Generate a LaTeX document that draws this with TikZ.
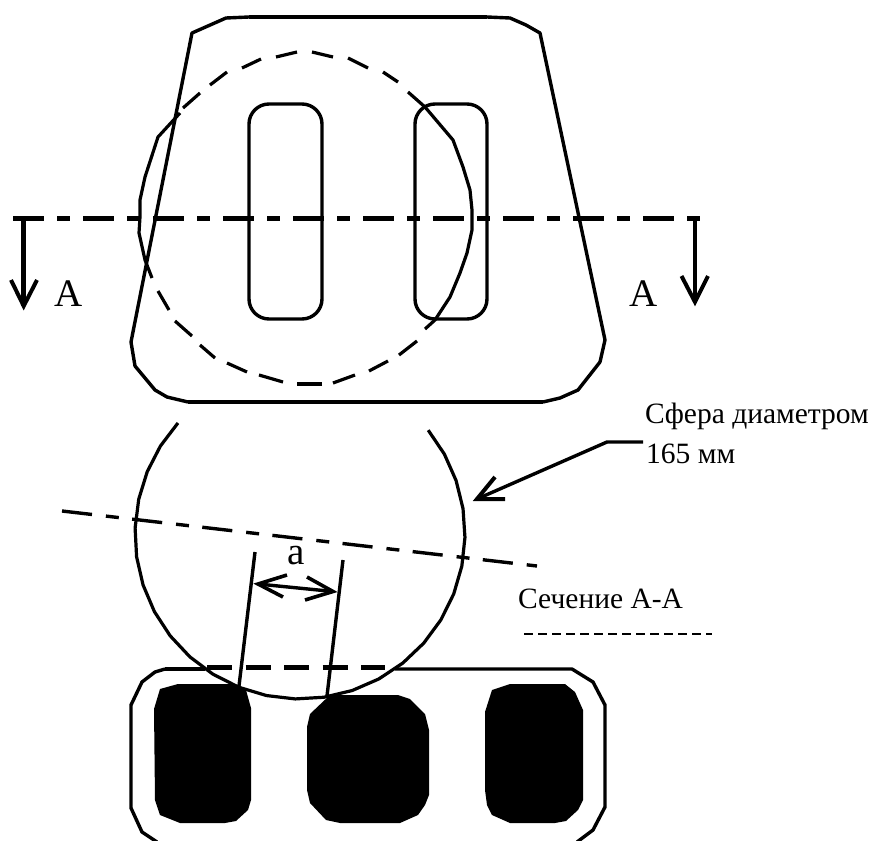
\documentclass[tikz,border=0pt]{standalone}
\usepackage{fontspec}
\setmainfont{Liberation Serif}
\tikzset{
  thickln/.style={line width=4.5pt,black},
  medln/.style={line width=3.4pt,black,line join=round},
  sphereln/.style={line width=3.2pt,black,line join=round},
  axisln/.style={line width=4.5pt,black,dash pattern=on 31pt off 13pt on 13pt off 13pt},
  axistwo/.style={line width=3.4pt,black,dash pattern=on 30.2pt off 14pt on 13pt off 13.4pt},
  basedash/.style={line width=5pt,black,dash pattern=on 25pt off 13.5pt},
  barbln/.style={line width=4pt,black,line join=miter,miter limit=10},
  lbl/.style={inner sep=0pt,anchor=base west,font=\fontsize{29.5}{34}\selectfont},
  biglbl/.style={inner sep=0pt,anchor=base west,font=\fontsize{39}{44}\selectfont},
}
\begin{document}
\begin{tikzpicture}[x=1pt,y=-1pt]
\useasboundingbox (0,0) rectangle (871,841);
\clip (0,0) rectangle (871,841);
% upper body
\draw[medln] (249,17) -- (226,18) -- (192,33) -- (131,342) -- (135,366) -- (155,390) -- (167,397) -- (188,402);
\draw[thickln] (249,17) -- (487,17);
\draw[medln] (487,17) -- (510,18) -- (526,25) -- (540,33) -- (605,340) -- (600,362) -- (578,390) -- (560,398) -- (543,402);
\draw[thickln] (188,402) -- (543,402);
% slots
\draw[medln,rounded corners=20pt] (249,104) rectangle (322,319);
\draw[medln,rounded corners=20pt] (415,104) rectangle (487,319);
% sphere outline in the upper view
\draw[sphereln] (180,113) -- (158,137) -- (145,177) -- (140,200) -- (140,217) -- (139,233) -- (145,260) -- (152,278);
\draw[sphereln] (408,92) -- (425,107) -- (453,140) -- (463,167) -- (470,190) -- (472,210) -- (472,230) -- (467,253) -- (460,273) -- (450,297) -- (435,320) -- (425,329);
\foreach \a/\b/\c/\d in {183/108/200/93,210/85/227/72,242/68/261/59,276/57/297/52,312/52/333/57,348/58/368/68,383/72/398/82,
  417/341/399/355,388/361/369/371,355/375/333/383,322/384/297/384,283/382/259/375,247/372/227/363,215/358/200/345,192/336/175/321,169/310/158/291}
  \draw[sphereln] (\a,\b) -- (\c,\d);
% section line
\coordinate (sl) at (13,218.5);
\coordinate (sr) at (700,218.5);
\draw[axisln] (sl) -- (sr);
\coordinate (al0) at (23.7,218);
\coordinate (al1) at (23.7,306);
\coordinate (ar0) at (695,218);
\coordinate (ar1) at (695,302);
\draw[line width=4.6pt] (al0) -- (al1);
\draw[line width=4pt] (ar0) -- (ar1);
\draw[barbln] (11,280) -- (al1) -- (37,280);
\draw[barbln] (681.5,276) -- (ar1) -- (708,276);
\node[biglbl] (la) at (54,306) {А};
\node[biglbl] (ra) at (629,306) {А};
% lower circle
\draw[sphereln] plot[domain=222.3:-39,samples=27] ({300+165*cos(\x)},{534+165*sin(\x)});
% axis
\coordinate (ax0) at (62,511);
\coordinate (ax1) at (537,566);
\draw[axistwo] (ax0) -- (ax1);
% contact lines
\coordinate (c1t) at (255,552);
\coordinate (c1b) at (239,686);
\coordinate (c2t) at (343,560);
\coordinate (c2b) at (327,696);
\draw[medln] (c1t) -- (c1b);
\draw[medln] (c2t) -- (c2b);
\coordinate (d0) at (258,584);
\coordinate (d1) at (333,591.5);
\draw[line width=3.4pt] (d0) -- (d1);
\draw[barbln,line width=3.6pt] (287,575) -- (d0) -- (283,597);
\draw[barbln,line width=3.6pt] (307,577) -- (d1) -- (305,600);
\node[biglbl] (alab) at (287,564) {а};
% leader
\node[lbl] (t1) at (645,423) {Сфера диаметром};
\node[lbl] (t2) at (646,463) {165 мм};
\node[lbl] (t3) at (518,608) {Сечение А-А};
\coordinate (le) at (643,442);
\coordinate (lk) at (607,442);
\coordinate (lt) at (477,499);
\draw[medln] (le) -- (lk) -- (lt);
\draw[barbln] (495,477) -- (lt) -- (505,499);
% stub of clipped text
\draw[line width=1.2pt,dash pattern=on 9pt off 5pt] (524,634) -- (712,634);
% lower part outline
\draw[medln] (165,669) -- (155,672) -- (142,682) -- (131,705) -- (131,808) -- (142,832) -- (157,842);
\draw[medln] (165,669) -- (205,669);
\draw[medln] (395,669) -- (572,669) -- (593,682) -- (605,705) -- (605,807) -- (593,830) -- (577,842);
\draw[basedash] (207,667) -- (385,667);
% black blocks
\fill (160,689) -- (178,684) -- (235,684) -- (246,690) -- (251,708) -- (251,800) -- (248,810) -- (236,821) -- (225,823) -- (180,823) -- (160,815) -- (155,800) -- (154,709) -- cycle;
\fill (310,714) -- (330,695) -- (398,695) -- (410,699) -- (425,714) -- (429,730) -- (429,795) -- (425,805) -- (418,815) -- (400,823) -- (340,823) -- (326,820) -- (310,803) -- (307,790) -- (307,727) -- cycle;
\fill (492,690) -- (510,684) -- (565,684) -- (575,692) -- (583,710) -- (583,800) -- (578,810) -- (566,821) -- (555,823) -- (510,823) -- (492,815) -- (487,805) -- (485,790) -- (485,712) -- cycle;
\end{tikzpicture}
\end{document}
